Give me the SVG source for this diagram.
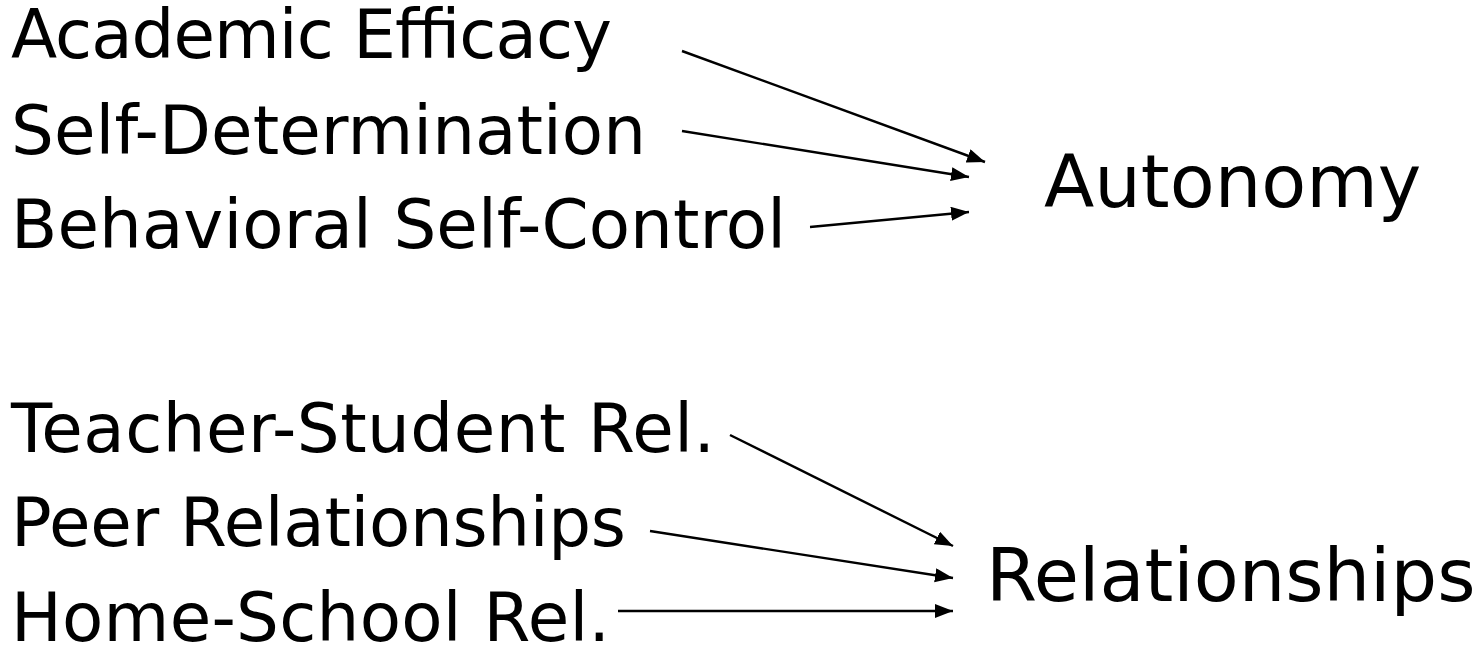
<svg xmlns="http://www.w3.org/2000/svg" width="1484" height="647" viewBox="0 0 1484 647">
<defs>
<marker id="ah" markerUnits="userSpaceOnUse" markerWidth="20" markerHeight="16" refX="18" refY="7" orient="auto"><path d="M0,0 L18,7 L0,14 z" fill="#000"/></marker>
<style>
text{font-family:"DejaVu Sans",Verdana,sans-serif;fill:#000}
.s{font-size:67.5px}
.b{font-size:73.5px}
.c line{stroke:#000;stroke-width:2.4;marker-end:url(#ah)}
</style>
</defs>
<rect width="1484" height="647" fill="#fff"/>
<g id="academic-efficacy"><text class="s" x="11" y="58" textLength="601">Academic Efficacy</text></g>
<g id="self-determination"><text class="s" x="11" y="154" textLength="635">Self-Determination</text></g>
<g id="behavioral-self-control"><text class="s" x="11" y="248" textLength="775">Behavioral Self-Control</text></g>
<g id="autonomy"><text class="b" x="1044" y="207">Autonomy</text></g>
<g id="teacher-student"><text class="s" x="11" y="452" textLength="704">Teacher-Student Rel.</text></g>
<g id="peer-relationships"><text class="s" x="11" y="546" textLength="615">Peer Relationships</text></g>
<g id="home-school"><text class="s" x="11" y="641" textLength="599">Home-School Rel.</text></g>
<g id="relationships"><text class="b" x="986" y="601">Relationships</text></g>
<g class="c" id="connectors">
<line x1="682" y1="51" x2="985" y2="162"/>
<line x1="682" y1="131" x2="969" y2="177"/>
<line x1="810" y1="227" x2="969" y2="212"/>
<line x1="730" y1="435" x2="953" y2="546"/>
<line x1="650" y1="531" x2="953" y2="578"/>
<line x1="618" y1="611" x2="953" y2="611"/>
</g>
</svg>
